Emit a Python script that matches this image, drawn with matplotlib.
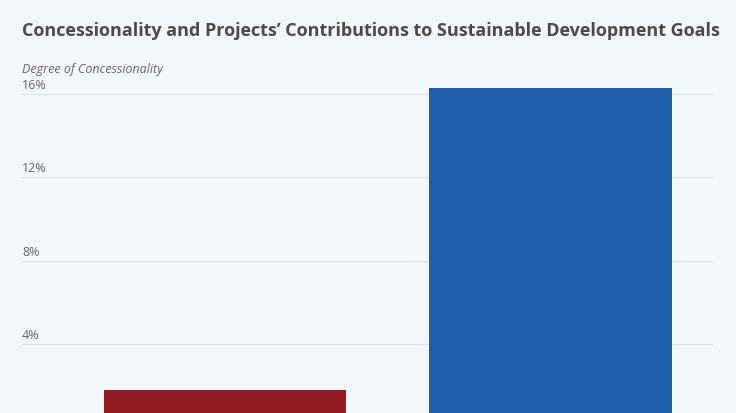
import matplotlib
matplotlib.use("Agg")
import matplotlib.pyplot as plt

categories = ["Low SDG contribution", "High SDG contribution"]
values = [1.82, 16.3]
colors = ["#951c22", "#1f5fab"]
ticks = [4, 8, 12, 16]
tick_labels = ["4%", "8%", "12%", "16%"]

bg = "#f3f6fa"
fig = plt.figure(figsize=(7.36, 4.14), dpi=100, facecolor=bg)
ax = fig.add_axes([22/736, -15/414, 691/736, 355/414], facecolor=bg)
ax.bar(range(len(values)), values, width=0.745, color=colors, zorder=2)
ax.set_xlim(-0.625, 1.50)
ax.set_ylim(0, 17)
for t, lab in zip(ticks, tick_labels):
    ax.axhline(t, color="#dde1e6", lw=0.8, zorder=1)
    ax.text(0, t + 0.15, lab, transform=ax.get_yaxis_transform(), ha="left", va="bottom",
            fontsize=9, color="#666666", family="Open Sans")
ax.set_xticks([]); ax.set_yticks([])
for s in ax.spines.values():
    s.set_visible(False)
fig.text(22/736, 1 - 31/414, "Concessionality and Projects\u2019 Contributions to Sustainable Development Goals",
         fontsize=13, fontweight="bold", color="#4a4a4a", family="Open Sans", va="center")
fig.text(22/736, 1 - 70/414, "Degree of Concessionality", fontsize=9, style="italic",
         color="#666666", family="Open Sans", va="center")
fig.savefig("out.png", dpi=100, facecolor=bg)
